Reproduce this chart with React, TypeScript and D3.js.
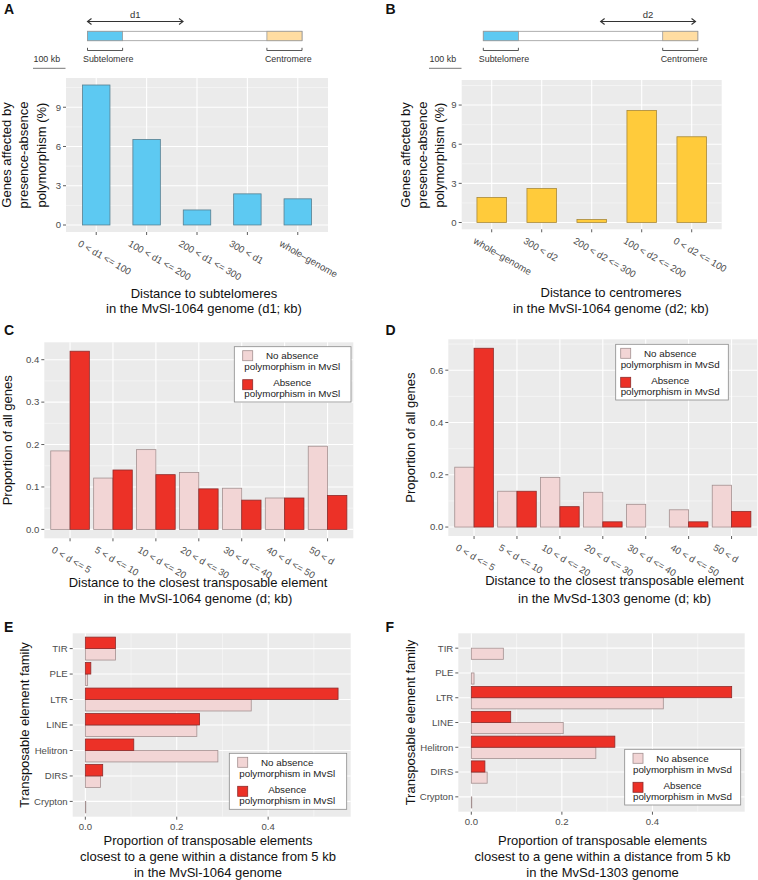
import React from "react";
import * as d3 from "d3";

const FONT = "'Liberation Sans', Arial, Helvetica, sans-serif";

// ---------- data ----------
const subtelCats = ["0 < d1 <= 100", "100 < d1 <= 200", "200 < d1 <= 300", "300 < d1", "whole–genome"];
const subtelValues = [10.7, 6.54, 1.15, 2.38, 2.0];
const centroCats = ["whole–genome", "300 < d2", "200 < d2 <= 300", "100 < d2 <= 200", "0 < d2 <= 100"];
const centroValues = [1.92, 2.6, 0.23, 8.59, 6.57];
const pctTicks = [0, 3, 6, 9];

const distCats = ["0 < d <= 5", "5 < d <= 10", "10 < d <= 20", "20 < d <= 30", "30 < d <= 40", "40 < d <= 50", "50 < d"];
const mvslNoAbs = [0.185, 0.121, 0.188, 0.134, 0.097, 0.074, 0.196];
const mvslAbs = [0.42, 0.14, 0.129, 0.0955, 0.069, 0.074, 0.08];
const mvsdNoAbs = [0.229, 0.137, 0.19, 0.133, 0.087, 0.066, 0.16];
const mvsdAbs: (number | null)[] = [0.684, 0.137, 0.078, 0.02, null, 0.02, 0.06];
const propTicksC = [0, 0.1, 0.2, 0.3, 0.4];
const propTicksD = [0, 0.2, 0.4, 0.6];

const teFamilies = ["TIR", "PLE", "LTR", "LINE", "Helitron", "DIRS", "Crypton"];
const teMvslNoAbs = [0.066, 0.005, 0.363, 0.244, 0.29, 0.033, 0.001];
const teMvslAbs: (number | null)[] = [0.066, 0.012, 0.553, 0.25, 0.106, 0.038, null];
const teMvsdNoAbs = [0.0707, 0.006, 0.424, 0.203, 0.275, 0.035, 0.001];
const teMvsdAbs: (number | null)[] = [null, null, 0.575, 0.087, 0.317, 0.03, null];
const teTicks = [0, 0.2, 0.4];

// schematic (kb)
const chromKb = 660;
const subtelKb = 108;
const centroKb = 108;
const scaleBarKb = 100;

// ---------- styles ----------
const COL = {
  panel: "#EBEBEB",
  blue: "#5DC9F2",
  blueLine: "#587f90",
  yellow: "#FFCB3B",
  yellowLine: "#A8893A",
  pink: "#F2D5D5",
  pinkLine: "#A39090",
  red: "#EC3127",
  redLine: "#8E2B2B",
  tick: "#4D4D4D",
  chromBlue: "#5DC9F2",
  chromOrange: "#FFDDA2",
};

type Series = { values: (number | null)[]; fill: string; stroke: string };

function minorOf(ticks: number[], hi: number): number[] {
  const s = ticks[1] - ticks[0];
  const out: number[] = [];
  for (let i = 0; i < ticks.length; i++) {
    const m = ticks[i] + s / 2;
    if (m < hi) out.push(m);
  }
  return out;
}

function VBars(p: {
  x0: number; x1: number; y0: number; y1: number;
  cats: string[]; series: Series[]; domain: [number, number];
  ticks: number[]; fmt: (v: number) => string; barW: number;
}) {
  const x = d3.scalePoint<string>().domain(p.cats).range([p.x0, p.x1]).padding(0.6);
  const y = d3.scaleLinear().domain(p.domain).range([p.y1, p.y0]);
  const step = x.step();
  const bw = (p.barW * step) / p.series.length;
  const minor = minorOf(p.ticks, p.domain[1]);
  return (
    <g>
      <rect x={p.x0} y={p.y0} width={p.x1 - p.x0} height={p.y1 - p.y0} fill={COL.panel} />
      {minor.map((v) => (
        <line key={"m" + v} x1={p.x0} x2={p.x1} y1={y(v)} y2={y(v)} stroke="#fafafa" strokeWidth={0.6} />
      ))}
      {p.ticks.map((v) => (
        <line key={"t" + v} x1={p.x0} x2={p.x1} y1={y(v)} y2={y(v)} stroke="#fff" strokeWidth={1.1} />
      ))}
      {p.cats.map((c) => (
        <line key={"v" + c} x1={x(c)} x2={x(c)} y1={p.y0} y2={p.y1} stroke="#fff" strokeWidth={1.1} />
      ))}
      {p.series.map((s, j) =>
        p.cats.map((c, i) => {
          const v = s.values[i];
          if (v == null) return null;
          const bx = (x(c) as number) - (p.barW * step) / 2 + j * bw;
          const top = y(v);
          const h = Math.max(y(0) - top, 0.3);
          return (
            <rect key={j + "-" + c} x={bx} y={y(0) - h} width={bw} height={h}
              fill={s.fill} stroke={s.stroke} strokeWidth={0.8} />
          );
        })
      )}
      {p.ticks.map((v) => (
        <g key={"yl" + v}>
          <line x1={p.x0 - 3} x2={p.x0} y1={y(v)} y2={y(v)} stroke="#333" strokeWidth={0.8} />
          <text x={p.x0 - 5} y={y(v)} dy="0.35em" textAnchor="end" fontSize={9.6} fill={COL.tick}>
            {p.fmt(v)}
          </text>
        </g>
      ))}
      {p.cats.map((c) => {
        const tx = x(c) as number;
        const lx = tx - 19;
        const ly = p.y1 + 13.5;
        return (
          <g key={"xl" + c}>
            <line x1={tx} x2={tx} y1={p.y1} y2={p.y1 + 3} stroke="#333" strokeWidth={0.8} />
            <text x={lx} y={ly} transform={`rotate(30,${lx},${ly})`} fontSize={9.6} fill={COL.tick}>
              {c}
            </text>
          </g>
        );
      })}
    </g>
  );
}

function HBars(p: {
  x0: number; x1: number; y0: number; y1: number;
  cats: string[]; series: Series[]; domain: [number, number];
  ticks: number[]; barW: number;
}) {
  const y = d3.scalePoint<string>().domain(p.cats).range([p.y0, p.y1]).padding(0.6);
  const x = d3.scaleLinear().domain(p.domain).range([p.x0, p.x1]);
  const step = y.step();
  const bh = (p.barW * step) / p.series.length;
  const minor = minorOf(p.ticks, p.domain[1]);
  const fmt = d3.format(".1f");
  return (
    <g>
      <rect x={p.x0} y={p.y0} width={p.x1 - p.x0} height={p.y1 - p.y0} fill={COL.panel} />
      {minor.map((v) => (
        <line key={"m" + v} y1={p.y0} y2={p.y1} x1={x(v)} x2={x(v)} stroke="#fafafa" strokeWidth={0.6} />
      ))}
      {p.ticks.map((v) => (
        <line key={"t" + v} y1={p.y0} y2={p.y1} x1={x(v)} x2={x(v)} stroke="#fff" strokeWidth={1.1} />
      ))}
      {p.cats.map((c) => (
        <line key={"h" + c} y1={y(c)} y2={y(c)} x1={p.x0} x2={p.x1} stroke="#fff" strokeWidth={1.1} />
      ))}
      {p.series.map((s, j) =>
        p.cats.map((c, i) => {
          const v = s.values[i];
          if (v == null) return null;
          const by = (y(c) as number) + (p.barW * step) / 2 - (j + 1) * bh;
          const w = Math.max(x(v) - x(0), 0.3);
          return (
            <rect key={j + "-" + c} x={x(0)} y={by} width={w} height={bh}
              fill={s.fill} stroke={s.stroke} strokeWidth={0.8} />
          );
        })
      )}
      {p.cats.map((c) => (
        <g key={"yl" + c}>
          <line x1={p.x0 - 3} x2={p.x0} y1={y(c)} y2={y(c)} stroke="#333" strokeWidth={0.8} />
          <text x={p.x0 - 5} y={y(c)} dy="0.35em" textAnchor="end" fontSize={9.6} fill={COL.tick}>
            {c}
          </text>
        </g>
      ))}
      {p.ticks.map((v) => (
        <g key={"xl" + v}>
          <line x1={x(v)} x2={x(v)} y1={p.y1} y2={p.y1 + 3} stroke="#333" strokeWidth={0.8} />
          <text x={x(v)} y={p.y1 + 13.5} textAnchor="middle" fontSize={9.6} fill={COL.tick}>
            {fmt(v)}
          </text>
        </g>
      ))}
    </g>
  );
}

function Legend(p: { x: number; y: number; w: number; h: number; kx: number; genome: string }) {
  const kr = p.kx + 10;
  const cx = kr + 39.5;
  return (
    <g fontSize={9.8} fill="#222">
      <rect x={p.x} y={p.y} width={p.w} height={p.h} fill="#fff" stroke="#8a8a8a" strokeWidth={0.8} />
      <rect x={p.kx} y={p.y + 4} width={10} height={10} fill={COL.pink} stroke={COL.pinkLine} strokeWidth={0.8} />
      <rect x={p.kx} y={p.y + 33} width={10} height={10} fill={COL.red} stroke={COL.redLine} strokeWidth={0.8} />
      <text x={cx} y={p.y + 12.2} textAnchor="middle">No absence</text>
      <text x={cx} y={p.y + 23.2} textAnchor="middle">polymorphism in {p.genome}</text>
      <text x={cx} y={p.y + 39.7} textAnchor="middle">Absence</text>
      <text x={cx} y={p.y + 50.6} textAnchor="middle">polymorphism in {p.genome}</text>
    </g>
  );
}

function Schematic(p: { x0: number; arrowKb: [number, number]; label: string; scaleX: number }) {
  const kb = d3.scaleLinear().domain([0, chromKb]).range([p.x0, p.x0 + 214.5]);
  const px = (k: number) => kb(k) - kb(0);
  const yTop = 31.3, yBot = 40.7, ya = 21.5;
  const a0 = kb(p.arrowKb[0]), a1 = kb(p.arrowKb[1]);
  const brY = 50.5;
  const bracket = (s: number, e: number) =>
    `M${s},${brY - 2.7}V${brY}H${e}V${brY - 2.7}`;
  return (
    <g>
      <line x1={a0} x2={a1} y1={ya} y2={ya} stroke="#333" strokeWidth={1} />
      <path d={`M${a0 + 4},${ya - 3}L${a0},${ya}L${a0 + 4},${ya + 3}`} fill="none" stroke="#333" strokeWidth={1.1} />
      <path d={`M${a1 - 4},${ya - 3}L${a1},${ya}L${a1 - 4},${ya + 3}`} fill="none" stroke="#333" strokeWidth={1.1} />
      <text x={(a0 + a1) / 2} y={17.5} textAnchor="middle" fontSize={9.5} fill="#333">{p.label}</text>
      <rect x={kb(0)} y={yTop} width={px(chromKb)} height={yBot - yTop} fill="#fff" stroke="#9a9a9a" strokeWidth={0.8} />
      <rect x={kb(0)} y={yTop} width={px(subtelKb)} height={yBot - yTop} fill={COL.chromBlue} stroke="#9a9a9a" strokeWidth={0.8} />
      <rect x={kb(chromKb - centroKb)} y={yTop} width={px(centroKb)} height={yBot - yTop} fill={COL.chromOrange} stroke="#9a9a9a" strokeWidth={0.8} />
      <path d={bracket(kb(0), kb(subtelKb))} fill="none" stroke="#444" strokeWidth={0.9} />
      <path d={bracket(kb(chromKb - centroKb), kb(chromKb))} fill="none" stroke="#444" strokeWidth={0.9} />
      <text x={kb(0) - 4.5} y={62} fontSize={8.9} fill="#333">Subtelomere</text>
      <text x={kb(chromKb - centroKb) - 2} y={62} fontSize={8.9} fill="#333">Centromere</text>
      <text x={p.scaleX + 0.5} y={61.5} fontSize={8.9} fill="#333">100 kb</text>
      <line x1={p.scaleX} x2={p.scaleX + px(scaleBarKb)} y1={68.3} y2={68.3} stroke="#777" strokeWidth={1} />
    </g>
  );
}

function YTitle({ x, cy, lines }: { x: number[]; cy: number; lines: string[] }) {
  return (
    <g fontSize={13} fill="#111">
      {lines.map((l, i) => (
        <text key={i} transform={`translate(${x[i]},${cy}) rotate(-90)`} textAnchor="middle">{l}</text>
      ))}
    </g>
  );
}

function XTitle({ cx, y, lines }: { cx: number; y: number[]; lines: string[] }) {
  return (
    <g fontSize={13} fill="#111">
      {lines.map((l, i) => (
        <text key={i} x={cx} y={y[i]} textAnchor="middle">{l}</text>
      ))}
    </g>
  );
}

function Letter({ x, y, t }: { x: number; y: number; t: string }) {
  return <text x={x} y={y} fontSize={14} fontWeight="bold" fill="#111">{t}</text>;
}

export default function App() {
  const pctFmt = d3.format("d");
  const f1 = d3.format(".1f");
  const pink = (v: (number | null)[]): Series => ({ values: v, fill: COL.pink, stroke: COL.pinkLine });
  const red = (v: (number | null)[]): Series => ({ values: v, fill: COL.red, stroke: COL.redLine });
  return (
    <div>
      <style>{`body{margin:0}`}</style>
      <svg width={758} height={880} style={{ display: "block", fontFamily: FONT }}>
        <rect width={758} height={880} fill="#fff" />
        {/* A */}
        <Letter x={4} y={14} t="A" />
        <Schematic x0={87.5} arrowKb={[0, 294]} label="d1" scaleX={33} />
        <VBars x0={66} x1={328} y0={78} y1={232} cats={subtelCats}
          series={[{ values: subtelValues, fill: COL.blue, stroke: COL.blueLine }]}
          domain={[-0.535, 11.235]} ticks={pctTicks} fmt={pctFmt} barW={0.545} />
        <YTitle x={[10.5, 28, 45.5]} cy={155} lines={["Genes affected by", "presence-absence", "polymorphism (%)"]} />
        <XTitle cx={204} y={[297.7, 313.3]} lines={["Distance to subtelomeres", "in the MvSl-1064 genome (d1; kb)"]} />
        {/* B */}
        <Letter x={385.5} y={14} t="B" />
        <Schematic x0={483.3} arrowKb={[361, 653]} label="d2" scaleX={429} />
        <VBars x0={461.7} x1={721.7} y0={80} y1={229.3} cats={centroCats}
          series={[{ values: centroValues, fill: COL.yellow, stroke: COL.yellowLine }]}
          domain={[-0.52, 10.92]} ticks={pctTicks} fmt={pctFmt} barW={0.59} />
        <YTitle x={[409.5, 426.5, 443.5]} cy={155} lines={["Genes affected by", "presence-absence", "polymorphism (%)"]} />
        <XTitle cx={611} y={[297.3, 313.3]} lines={["Distance to centromeres", "in the MvSl-1064 genome (d2; kb)"]} />
        {/* C */}
        <Letter x={4} y={335} t="C" />
        <VBars x0={44.3} x1={353.3} y0={342.3} y1={538.3} cats={distCats}
          series={[pink(mvslNoAbs), red(mvslAbs)]}
          domain={[-0.021, 0.441]} ticks={propTicksC} fmt={f1} barW={0.9} />
        <Legend x={234.3} y={346.7} w={116.7} h={55.3} kx={242.7} genome="MvSl" />
        <YTitle x={[12]} cy={440.3} lines={["Proportion of all genes"]} />
        <XTitle cx={198} y={[586.5, 603.3]} lines={["Distance to the closest transposable element", "in the MvSl-1064 genome (d; kb)"]} />
        {/* D */}
        <Letter x={385.5} y={335} t="D" />
        <VBars x0={448.3} x1={757.3} y0={339.3} y1={536} cats={distCats}
          series={[pink(mvsdNoAbs), red(mvsdAbs)]}
          domain={[-0.0342, 0.7182]} ticks={propTicksD} fmt={f1} barW={0.9} />
        <Legend x={615.7} y={344.3} w={112.6} h={55.7} kx={620.7} genome="MvSd" />
        <YTitle x={[415]} cy={437.6} lines={["Proportion of all genes"]} />
        <XTitle cx={614.5} y={[585.3, 603.3]} lines={["Distance to the closest transposable element", "in the MvSd-1303 genome (d; kb)"]} />
        {/* E */}
        <Letter x={4} y={631.7} t="E" />
        <HBars x0={72.7} x1={350.7} y0={633.3} y1={816.7} cats={teFamilies}
          series={[pink(teMvslNoAbs), red(teMvslAbs)]}
          domain={[-0.02765, 0.58065]} ticks={teTicks} barW={0.9} />
        <Legend x={229.3} y={753.3} w={117.4} h={56} kx={237.7} genome="MvSl" />
        <YTitle x={[28.6]} cy={725} lines={["Transposable element family"]} />
        <XTitle cx={208} y={[845, 860.8, 876.6]} lines={["Proportion of transposable elements", "closest to a gene within a distance from 5 kb", "in the MvSl-1064 genome"]} />
        {/* F */}
        <Letter x={385.5} y={631.7} t="F" />
        <HBars x0={458.3} x1={744.7} y0={633.3} y1={811.7} cats={teFamilies}
          series={[pink(teMvsdNoAbs), red(teMvsdAbs)]}
          domain={[-0.02875, 0.60375]} ticks={teTicks} barW={0.9} />
        <Legend x={624.7} y={749.3} w={116} h={55.7} kx={633} genome="MvSd" />
        <YTitle x={[415]} cy={722.5} lines={["Transposable element family"]} />
        <XTitle cx={602.5} y={[845, 860.8, 876.6]} lines={["Proportion of transposable elements", "closest to a gene within a distance from 5 kb", "in the MvSd-1303 genome"]} />
      </svg>
    </div>
  );
}
